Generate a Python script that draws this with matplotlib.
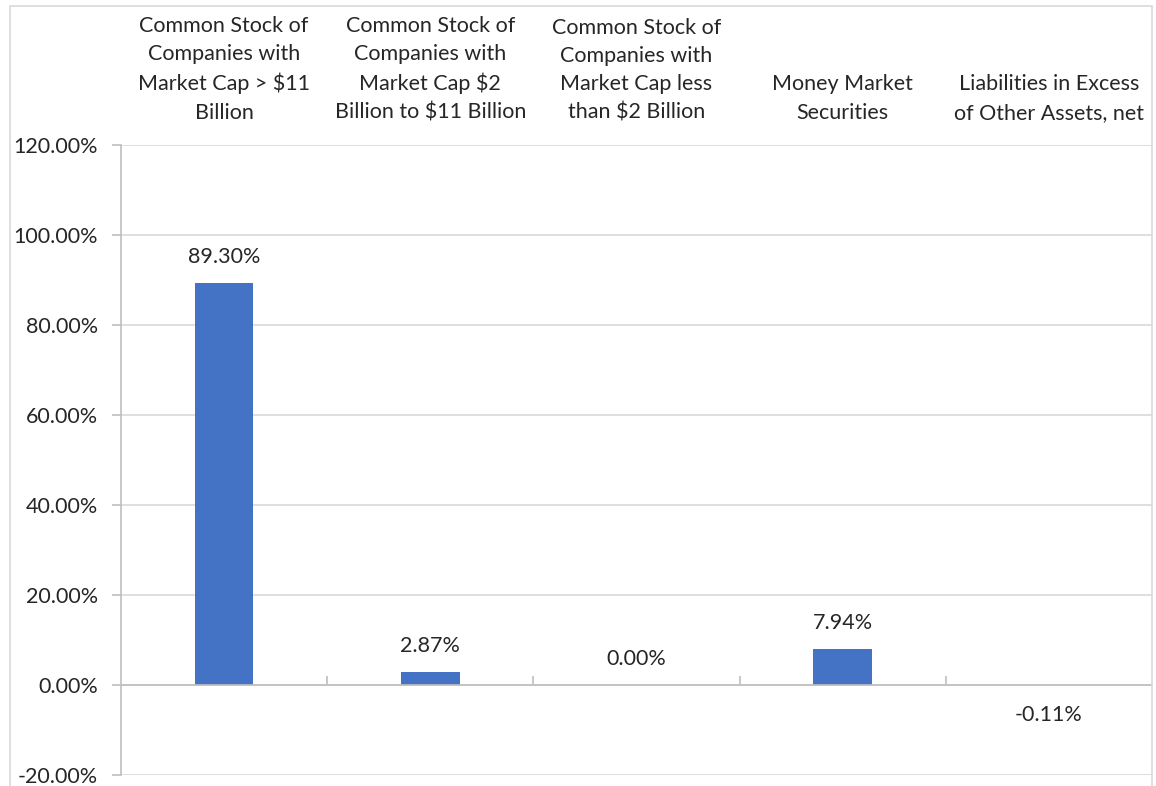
import matplotlib
matplotlib.use("Agg")
import matplotlib.pyplot as plt
from matplotlib.patches import Rectangle
from matplotlib.ticker import FuncFormatter, MultipleLocator, FixedLocator

categories = [
    "Common Stock of\nCompanies with\nMarket Cap > $11\nBillion",
    "Common Stock of\nCompanies with\nMarket Cap $2\nBillion to $11 Billion",
    "Common Stock of\nCompanies with\nMarket Cap less\nthan $2 Billion",
    "Money Market\nSecurities",
    "Liabilities in Excess\nof Other Assets, net",
]
values = [89.30, 2.87, 0.00, 7.94, -0.11]

BAR_COLOR = "#4472C4"
GRID_COLOR = "#D9D9D9"
AXIS_COLOR = "#BFBFBF"
TEXT_COLOR = "#262626"

plt.rcParams["font.family"] = ["Lato", "DejaVu Sans"]
plt.rcParams["font.size"] = 15.5

W, H = 1156, 786
fig = plt.figure(figsize=(W / 100, H / 100), dpi=100)

# chart-area border
fig.patches.append(Rectangle((10 / W, -0.01), (1152 - 10) / W, (H - 6) / H + 0.01,
                             transform=fig.transFigure, fill=False,
                             edgecolor=GRID_COLOR, linewidth=1.2))

left, right = 121 / W, 1152 / W
bottom, top = (H - 775) / H, (H - 145) / H
ax = fig.add_axes([left, bottom, right - left, top - bottom])

x = list(range(len(values)))
ax.bar(x, values, width=0.285, color=BAR_COLOR, zorder=3)

ax.set_xlim(-0.5, len(values) - 0.5)
ax.set_ylim(-20, 120)
ax.yaxis.set_major_locator(MultipleLocator(20))
ax.yaxis.set_major_formatter(FuncFormatter(lambda v, p: f"{v:.2f}%"))
ax.grid(axis="y", color=GRID_COLOR, linewidth=1.2, zorder=0)
ax.set_axisbelow(True)

for s in ("top", "right"):
    ax.spines[s].set_visible(False)
ax.spines["left"].set_color(AXIS_COLOR)
ax.spines["left"].set_linewidth(1.2)
ax.spines["bottom"].set_position(("data", 0))
ax.spines["bottom"].set_color(AXIS_COLOR)
ax.spines["bottom"].set_linewidth(1.2)
ax.spines["bottom"].set_zorder(4)

ax.tick_params(axis="y", length=6.5, width=1.2, color=AXIS_COLOR,
               labelcolor=TEXT_COLOR, labelsize=15.5, pad=10)

# category labels across the top, tick marks at the category boundaries on the zero line
ax.set_xticks(x)
ax.set_xticklabels(categories, linespacing=1.52, color=TEXT_COLOR)
ax.xaxis.set_minor_locator(FixedLocator([i + 0.5 for i in x[:-1]]))
ax.tick_params(axis="x", which="major", bottom=False, top=False,
               labelbottom=False, labeltop=True, pad=12.5)
ax.tick_params(axis="x", which="minor", bottom=True, top=False, direction="in",
               length=6.5, width=1.2, color=AXIS_COLOR)

for xi, v in zip(x, values):
    off = 19 if v >= 0 else -21
    ax.annotate(f"{v:.2f}%", (xi, v), xytext=(0, off), textcoords="offset points",
                ha="center", va="center", color=TEXT_COLOR, fontsize=15.5)

fig.savefig("out.png", dpi=100, facecolor="white")
